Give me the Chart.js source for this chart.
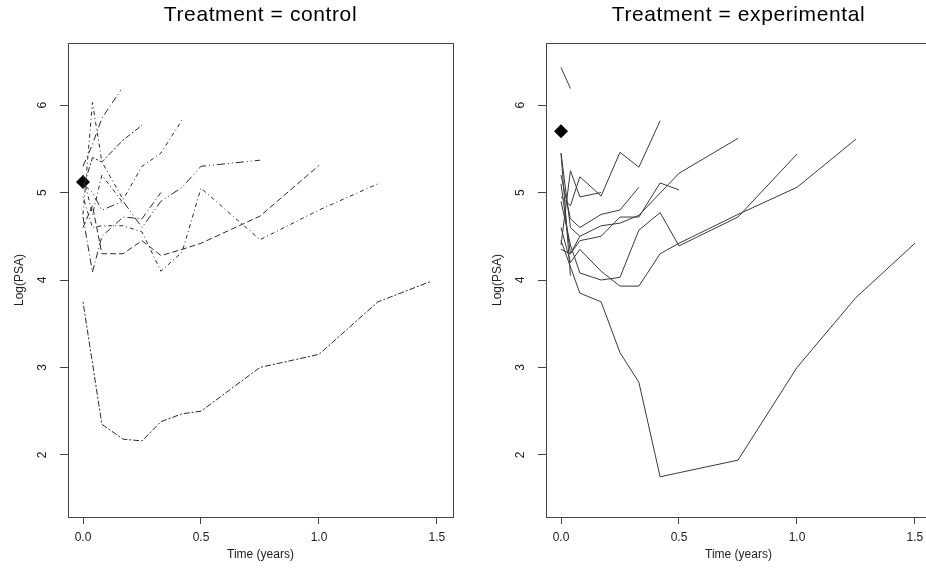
<!DOCTYPE html>
<html>
<head>
<meta charset="utf-8">
<script src="https://cdn.jsdelivr.net/npm/chart.js@4"></script>
<style>
  html, body { margin: 0; padding: 0; background: #fff; overflow: hidden; width: 926px; height: 571px; }
  canvas { position: absolute; top: 0; }
  #ctl { left: 0; }
  #exp { left: 478px; }
</style>
</head>
<body>
<canvas id="ctl" width="480" height="571"></canvas>
<canvas id="exp" width="480" height="571"></canvas>
<script>
// follow-up times (years) and log PSA per subject, control arm
const controlTime = [
  [0, 0.04, 0.08, 0.16],
  [0, 0.04, 0.08, 0.17, 0.25, 0.33, 0.42],
  [0, 0.04, 0.08, 0.17, 0.25],
  [0, 0.04, 0.08, 0.17, 0.25, 0.33, 0.42, 0.5, 0.75],
  [0, 0.04, 0.08, 0.17, 0.25, 0.33, 0.42, 0.5, 0.75, 1.0, 1.25],
  [0, 0.04, 0.08, 0.17, 0.25, 0.33, 0.42, 0.5, 0.75, 1.0],
  [0, 0.04, 0.08, 0.17, 0.25, 0.33],
  [0, 0.04, 0.08, 0.17],
  [0, 0.08, 0.17, 0.25, 0.33, 0.42, 0.5, 0.75, 1.0, 1.25, 1.47]
];
const controlLogPsa = [
  [5.3, 5.55, 5.85, 6.17],
  [4.75, 6.03, 5.35, 4.92, 5.3, 5.45, 5.83],
  [5.05, 5.4, 5.35, 5.6, 5.77],
  [5.1, 5.0, 4.8, 4.9, 4.6, 4.9, 5.06, 5.3, 5.37],
  [4.95, 4.6, 4.62, 4.62, 4.55, 4.1, 4.32, 5.05, 4.46, 4.8, 5.1],
  [4.6, 4.85, 4.3, 4.3, 4.45, 4.28, 4.35, 4.42, 4.73, 5.31],
  [4.72, 4.09, 4.5, 4.72, 4.7, 5.0],
  [5.2, 4.75, 5.2, 4.88],
  [3.75, 2.35, 2.18, 2.16, 2.38, 2.47, 2.5, 3.0, 3.15, 3.75, 3.98]
];

// experimental arm
const expTime = [
  [0, 0.04],
  [0, 0.04, 0.08, 0.17, 0.25, 0.33, 0.42],
  [0, 0.04, 0.08, 0.17, 0.25, 0.33, 0.42, 0.5],
  [0, 0.04, 0.08, 0.17, 0.25, 0.33, 0.5, 0.75],
  [0, 0.04, 0.08, 0.17, 0.25, 0.33, 0.42, 0.5, 0.75, 1.0],
  [0, 0.04, 0.08, 0.17, 0.25, 0.33, 0.42, 0.5, 0.75, 1.0, 1.25],
  [0, 0.04, 0.08, 0.17, 0.25, 0.33, 0.42, 0.75, 1.0, 1.25, 1.5],
  [0, 0.04, 0.08, 0.17, 0.25, 0.33],
  [0, 0.04, 0.08, 0.17],
  [0, 0.04],
  [0, 0.04, 0.08]
];
const expLogPsa = [
  [6.43, 6.19],
  [4.95, 4.85, 5.18, 4.96, 5.46, 5.29, 5.82],
  [5.1, 4.3, 4.45, 4.5, 4.72, 4.72, 5.11, 5.03],
  [5.45, 4.6, 4.5, 4.62, 4.65, 4.74, 5.22, 5.62],
  [4.9, 4.4, 4.08, 4.0, 4.03, 4.57, 4.77, 4.39, 4.72, 5.44],
  [4.6, 4.2, 4.35, 4.1, 3.93, 3.93, 4.3, 4.42, 4.75, 5.06, 5.61],
  [4.45, 4.15, 3.85, 3.75, 3.17, 2.83, 1.75, 1.94, 3.0, 3.8, 4.42],
  [5.2, 4.7, 4.6, 4.75, 4.8, 5.06],
  [4.4, 5.25, 4.95, 5.0],
  [5.45, 4.05],
  [4.35, 4.3, 4.5]
];

// baseline mean per arm (diamond at time 0)
const baselineMean = [5.12, 5.70];

const xTicks = [0, 0.5, 1.0, 1.5];
const yTicks = [2, 3, 4, 5, 6];

const axisColor = '#444';
Chart.defaults.font.family = '"Liberation Sans", Arial, sans-serif';
Chart.defaults.color = '#000';

const frame = {
  id: 'frame',
  afterDraw(chart) {
    const { ctx, chartArea: a } = chart;
    ctx.save();
    ctx.strokeStyle = axisColor;
    ctx.lineWidth = 1;
    ctx.strokeRect(Math.round(a.left) + 0.5, Math.round(a.top) + 0.5,
      Math.round(a.right - a.left), Math.round(a.bottom - a.top));
    ctx.restore();
  }
};

const dashes = [[7, 3, 1, 3], [4, 3, 1, 3], [2, 2, 6, 2], [8, 3, 1, 3, 1, 3], [1, 3, 4, 3], [6, 3]];

function panel(id, title, times, values, mean, dashed) {
  const datasets = times.map((t, i) => ({
    data: t.map((x, j) => ({ x: x, y: values[i][j] })),
    borderColor: dashed ? '#2a2a2a' : '#3a3a3a',
    borderWidth: 1,
    borderDash: dashed ? dashes[i % dashes.length] : [],
    pointRadius: 0,
    tension: 0,
    fill: false
  }));
  datasets.push({
    data: [{ x: 0, y: mean }],
    showLine: false,
    pointStyle: 'rectRot',
    pointRadius: 7,
    pointBackgroundColor: '#000',
    pointBorderColor: '#000',
    pointBorderWidth: 0
  });

  const chart = new Chart(document.getElementById(id), {
    type: 'line',
    data: { datasets },
    plugins: [frame],
    options: {
      responsive: false,
      animation: false,
      layout: { padding: { left: 0, right: 27, top: 0, bottom: 0 } },
      plugins: {
        legend: { display: false },
        tooltip: { enabled: false },
        title: {
          display: true,
          text: title,
          fullSize: false,
          color: '#000',
          font: { size: 21, weight: 'normal', lineHeight: 1.2 },
          padding: { top: 3, bottom: 14.8 }
        }
      },
      scales: {
        x: {
          type: 'linear',
          min: -0.0636,
          max: 1.568,
          afterBuildTicks: s => { s.ticks = xTicks.map(v => ({ value: v })); },
          afterFit: s => { s.height = 54; },
          border: { display: false },
          grid: { drawOnChartArea: false, drawTicks: true, tickLength: 7, color: axisColor },
          ticks: { padding: 6, font: { size: 12 }, color: '#222', callback: v => v.toFixed(1), maxRotation: 0 },
          title: { display: true, text: 'Time (years)', font: { size: 12 }, color: '#222', padding: { top: 0, bottom: 9 } }
        },
        y: {
          type: 'linear',
          min: 1.29,
          max: 6.71,
          afterBuildTicks: s => { s.ticks = yTicks.map(v => ({ value: v })); },
          afterFit: s => { s.width = 68; },
          border: { display: false },
          grid: { drawOnChartArea: false, drawTicks: true, tickLength: 8, color: axisColor },
          ticks: { padding: 14, minRotation: 90, maxRotation: 90, crossAlign: 'center', font: { size: 12 }, color: '#222', callback: v => String(v) },
          title: { display: true, text: 'Log(PSA)', font: { size: 12 }, color: '#222', padding: { top: 12, bottom: 0 } }
        }
      }
    }
  });

  // wider letter spacing for the panel heading
  const tb = chart.titleBlock;
  const drawTitle = tb.draw.bind(tb);
  tb.draw = function () {
    this.ctx.save();
    this.ctx.letterSpacing = '0.6px';
    drawTitle();
    this.ctx.restore();
  };
  chart.draw();
  return chart;
}

panel('ctl', 'Treatment = control', controlTime, controlLogPsa, baselineMean[0], true);
panel('exp', 'Treatment = experimental', expTime, expLogPsa, baselineMean[1], false);
</script>
</body>
</html>
